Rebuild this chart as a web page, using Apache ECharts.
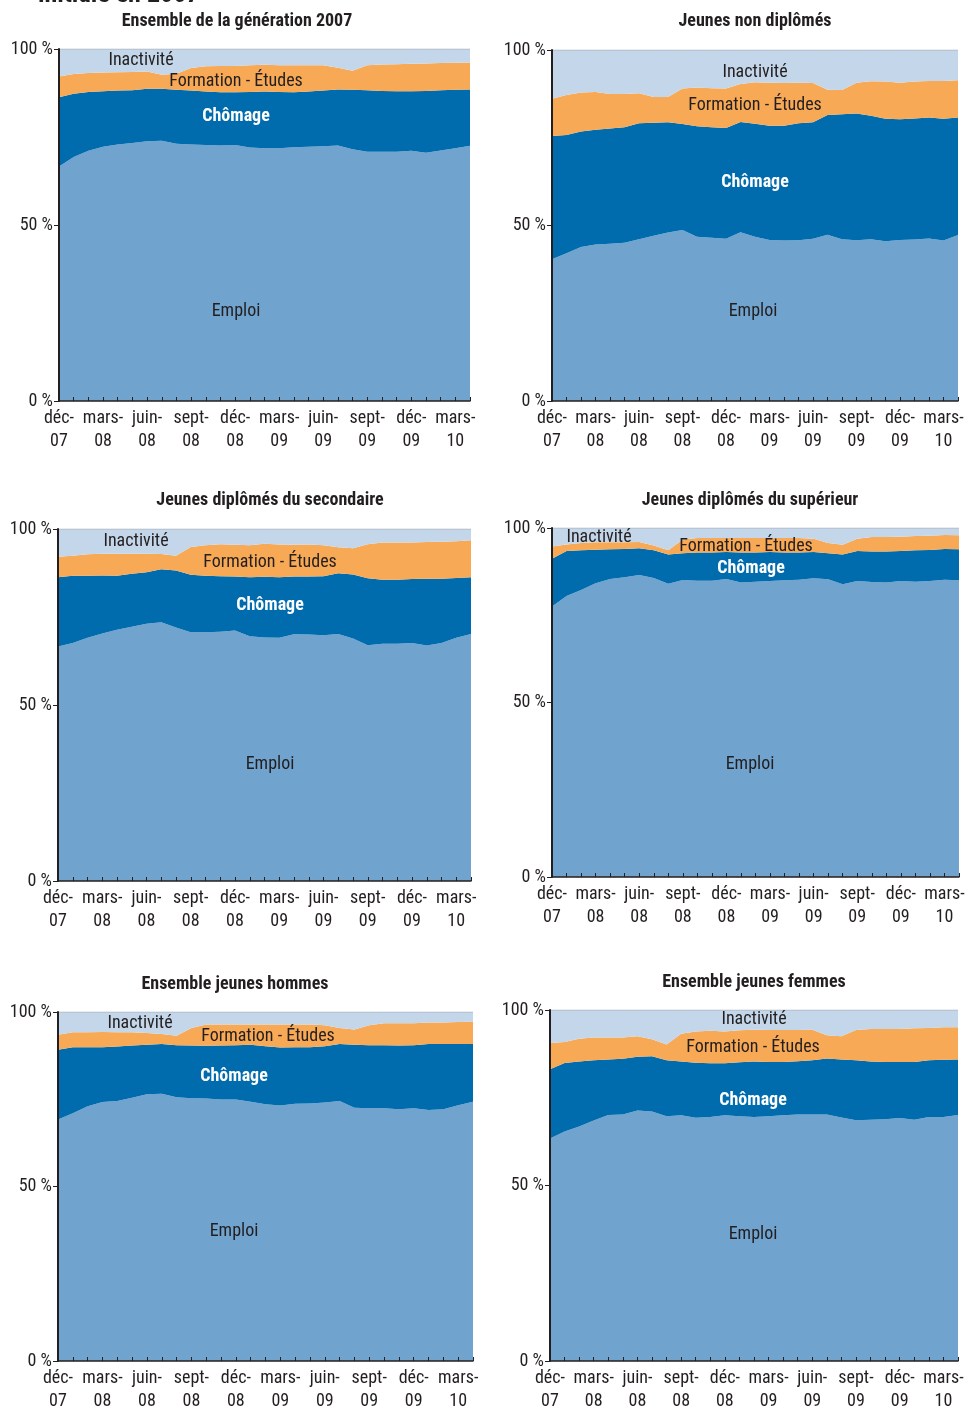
<!DOCTYPE html>
<html>
<head>
<meta charset="utf-8">
<script src="https://cdn.jsdelivr.net/npm/echarts@6/dist/echarts.min.js"></script>
<style>
html,body{margin:0;padding:0;background:#fff;}
#c{width:968px;height:1413px;}
</style>
</head>
<body>
<div id="c"></div>
<script>
// ---------- DATA ----------
const months = ['déc-07','janv-08','févr-08','mars-08','avr-08','mai-08','juin-08','juil-08','août-08','sept-08','oct-08','nov-08','déc-08','janv-09','févr-09','mars-09','avr-09','mai-09','juin-09','juil-09','août-09','sept-09','oct-09','nov-09','déc-09','janv-10','févr-10','mars-10','avr-10'];
const yTicks = [0, 50, 100];

const panelTitles = ['Ensemble de la génération 2007','Jeunes non diplômés','Jeunes diplômés du secondaire','Jeunes diplômés du supérieur','Ensemble jeunes hommes','Ensemble jeunes femmes'];
const seriesNames = ['Emploi','Chômage','Formation - Études','Inactivité'];

// Ensemble de la génération 2007
const emploiEnsemble     = [66.6,69.3,71.1,72.2,72.9,73.3,73.8,73.9,73.1,72.9,72.7,72.6,72.7,72.0,71.8,71.8,72.1,72.2,72.4,72.6,71.5,70.8,70.8,70.8,71.1,70.5,71.2,71.8,72.5];
const chomageEnsemble    = [19.7,18.0,16.7,15.8,15.3,15.0,14.9,14.8,15.3,15.3,15.2,15.1,15.0,15.8,16.1,16.0,15.6,15.7,15.8,15.9,16.9,17.5,17.3,17.2,16.9,17.6,17.1,16.6,16.0];
const formationEnsemble  = [5.9,5.6,5.4,5.3,5.2,5.2,4.9,4.0,4.6,6.4,7.2,7.5,7.5,7.6,7.6,7.6,7.7,7.5,7.2,6.2,5.4,7.1,7.5,7.7,7.8,7.8,7.7,7.7,7.7];
const inactiviteEnsemble = [7.8,7.1,6.8,6.7,6.6,6.5,6.4,7.3,7.0,5.4,4.9,4.8,4.8,4.6,4.5,4.6,4.6,4.6,4.6,5.3,6.2,4.6,4.4,4.3,4.2,4.1,4.0,3.9,3.8];

// Jeunes non diplômés
const emploiNonDipl     = [40.4,42.1,43.9,44.6,44.8,45.1,46.1,47.1,48.0,48.7,46.8,46.5,46.2,48.1,46.8,45.9,45.7,45.8,46.2,47.4,46.1,45.8,46.1,45.5,45.9,46.0,46.3,45.7,47.3];
const chomageNonDipl    = [35.1,33.7,32.9,32.7,32.8,32.9,33.0,32.2,31.4,30.2,31.5,31.5,31.6,31.4,32.2,32.5,32.7,33.3,33.2,34.1,35.6,36.1,35.2,34.9,34.4,34.5,34.5,34.7,33.5];
const formationNonDipl  = [10.6,11.4,11.1,10.7,9.9,9.5,8.6,7.3,7.2,10.1,11.0,11.1,11.2,10.8,11.8,12.3,12.2,11.6,11.2,7.2,6.9,8.8,9.8,10.6,10.4,10.5,10.4,10.8,10.6];
const inactiviteNonDipl = [13.9,12.8,12.1,12.0,12.5,12.5,12.3,13.4,13.4,11.0,10.7,10.9,11.0,9.7,9.2,9.3,9.4,9.3,9.4,11.3,11.4,9.3,8.9,9.0,9.3,9.0,8.8,8.8,8.6];

// Jeunes diplômés du secondaire
const emploiSecondaire     = [66.6,67.6,69.1,70.3,71.4,72.2,73.1,73.5,72.0,70.7,70.7,70.8,71.2,69.5,69.2,69.1,70.1,70.0,69.8,70.2,68.9,67.0,67.4,67.4,67.6,66.9,67.6,69.1,70.2];
const chomageSecondaire    = [19.7,19.1,17.6,16.5,15.3,15.1,14.6,15.1,16.2,16.3,16.0,15.8,15.3,16.8,17.2,17.2,16.4,16.5,16.8,17.2,18.2,19.0,18.2,18.2,18.2,19.0,18.3,17.0,16.1];
const formationSecondaire  = [5.8,5.7,6.1,6.2,6.3,5.7,5.3,4.3,4.2,7.9,8.7,9.1,9.0,9.1,9.4,9.3,9.0,9.1,8.8,7.4,7.4,9.7,10.6,10.6,10.4,10.4,10.5,10.4,10.5];
const inactiviteSecondaire = [7.9,7.6,7.2,7.0,7.0,7.0,7.0,7.1,7.6,5.1,4.6,4.3,4.5,4.6,4.2,4.4,4.5,4.4,4.6,5.2,5.5,4.3,3.8,3.8,3.8,3.7,3.6,3.5,3.2];

// Jeunes diplômés du supérieur
const emploiSuperieur     = [77.5,80.5,82.2,84.2,85.4,85.9,86.5,85.7,84.0,85.1,84.9,84.9,85.4,84.4,84.6,84.8,85.0,85.2,85.6,85.3,83.9,84.8,84.5,84.4,84.8,84.6,84.8,85.2,85.0];
const chomageSuperieur    = [13.7,12.9,11.4,9.6,8.5,8.1,7.7,7.9,8.4,7.7,8.1,8.1,7.7,8.6,8.4,8.3,8.0,7.8,7.5,7.5,8.5,8.6,8.8,8.9,8.6,9.0,8.9,8.8,8.9];
const formationSuperieur  = [3.5,1.9,2.1,2.1,2.0,1.9,1.8,1.4,1.2,3.9,4.1,4.1,4.0,4.1,4.1,4.0,4.1,4.1,3.8,2.9,2.8,3.5,4.1,4.1,4.1,4.1,4.1,4.0,4.0];
const inactiviteSuperieur = [5.3,4.7,4.3,4.1,4.1,4.1,4.0,5.0,6.4,3.3,2.9,2.9,2.9,2.9,2.9,2.9,2.9,2.9,3.1,4.3,4.8,3.1,2.6,2.6,2.5,2.3,2.2,2.0,2.1];

// Ensemble jeunes hommes
const emploiHommes     = [69.2,71.0,73.0,74.2,74.5,75.4,76.4,76.6,75.6,75.3,75.2,74.9,74.9,74.3,73.6,73.2,73.7,73.8,74.1,74.5,72.6,72.4,72.4,72.1,72.4,71.9,72.1,73.3,74.3];
const chomageHommes    = [20.0,18.9,16.9,15.7,15.6,15.0,14.2,14.2,14.9,15.1,15.1,15.5,15.6,16.3,16.6,16.6,16.2,16.1,16.1,16.3,18.0,18.1,18.1,18.3,18.1,18.9,18.7,17.5,16.5];
const formationHommes  = [4.3,4.3,4.3,4.4,4.1,3.8,3.4,2.9,2.7,5.0,6.1,6.0,5.9,5.8,6.2,6.6,6.5,6.5,6.0,4.6,4.4,5.7,6.3,6.4,6.3,6.2,6.2,6.3,6.4];
const inactiviteHommes = [6.5,5.8,5.8,5.7,5.8,5.8,6.0,6.3,6.8,4.6,3.6,3.6,3.6,3.6,3.6,3.6,3.6,3.6,3.8,4.6,5.0,3.8,3.2,3.2,3.2,3.0,3.0,2.9,2.8];

// Ensemble jeunes femmes
const emploiFemmes     = [63.4,65.4,66.8,68.5,70.1,70.2,71.4,71.1,69.7,70.0,69.3,69.5,70.0,69.7,69.5,69.7,70.0,70.2,70.2,70.2,69.4,68.6,68.7,68.9,69.2,68.7,69.5,69.5,70.1];
const chomageFemmes    = [19.7,19.5,18.5,17.2,15.8,15.9,15.3,15.7,16.0,15.3,15.7,15.3,14.8,15.4,15.8,15.5,15.2,15.2,15.5,16.0,16.5,17.1,16.6,16.3,16.0,16.5,16.2,16.3,15.8];
const formationFemmes  = [7.5,6.0,6.5,6.5,6.3,6.1,5.8,4.9,4.5,7.9,8.9,9.3,9.1,9.1,9.1,9.1,9.1,8.9,8.7,6.6,6.6,8.6,9.3,9.4,9.4,9.6,9.2,9.3,9.2];
const inactiviteFemmes = [9.4,9.1,8.2,7.8,7.8,7.8,7.5,8.3,9.8,6.8,6.1,5.9,6.1,5.8,5.6,5.7,5.7,5.7,5.6,7.2,7.5,5.7,5.4,5.4,5.4,5.2,5.1,4.9,4.9];

const panelData = [
  [emploiEnsemble, chomageEnsemble, formationEnsemble, inactiviteEnsemble],
  [emploiNonDipl, chomageNonDipl, formationNonDipl, inactiviteNonDipl],
  [emploiSecondaire, chomageSecondaire, formationSecondaire, inactiviteSecondaire],
  [emploiSuperieur, chomageSuperieur, formationSuperieur, inactiviteSuperieur],
  [emploiHommes, chomageHommes, formationHommes, inactiviteHommes],
  [emploiFemmes, chomageFemmes, formationFemmes, inactiviteFemmes]
];

// ---------- LAYOUT / STYLE ----------
const FONT = '"Liberation Sans Narrow", "Arial Narrow", "Roboto Condensed", "Liberation Sans", sans-serif';
const TXT = '#231f20';
const colors = ['#70a3ce', '#006cae', '#f8a955', '#c4d7ea'];

// grid rectangles [left, top, rightEdge, bottomEdge]
const grids = [
  [59, 49, 470, 401],
  [552, 50, 958, 401],
  [58, 529, 471, 881],
  [552, 528, 959, 877],
  [58, 1012, 473, 1362],
  [550, 1010, 958, 1365]
];
const titlePos = [[237,21],[755,21],[270,500],[750,500],[235,984],[754,982]];
// label positions: Inactivité, Formation, Chômage, Emploi
const labelPos = [
  [[141,60],[236,81],[236,116],[236,311]],
  [[755,72],[755,105],[755,182],[753,311]],
  [[136,541],[270,562],[270,605],[270,764]],
  [[599,537],[746,546],[751,568],[750,764]],
  [[140,1023],[268,1036],[234,1076],[234,1231]],
  [[754,1019],[753,1047],[753,1100],[753,1234]]
];

const option = {
  animation: false,
  backgroundColor: '#fff',
  grid: [], xAxis: [], yAxis: [], series: [], graphic: []
};

grids.forEach((g, k) => {
  option.grid.push({left: g[0], top: g[1], width: g[2]-g[0], height: g[3]-g[1], containLabel: false});
  option.xAxis.push({
    type: 'category', gridIndex: k, data: months, boundaryGap: false, z: 5,
    axisLine: {lineStyle: {color: TXT, width: 1.5}},
    axisTick: {inside: true, length: 4, interval: 0, lineStyle: {color: TXT, width: 1}},
    axisLabel: {interval: 2, formatter: v => v.replace('-', '-\n'), fontSize: 18, lineHeight: 23,
                color: TXT, fontFamily: FONT, margin: 6}
  });
  option.yAxis.push({
    type: 'value', gridIndex: k, min: 0, max: 100, interval: 50, z: 5,
    axisLine: {show: true, lineStyle: {color: TXT, width: 2}},
    axisTick: {show: true, length: 5, lineStyle: {color: TXT}},
    splitLine: {show: false},
    axisLabel: {formatter: '{value} %', fontSize: 18, color: TXT, fontFamily: FONT, margin: 6}
  });
  panelData[k].forEach((arr, s) => {
    const top = s === 3;
    option.series.push({
      type: 'line', name: seriesNames[s], xAxisIndex: k, yAxisIndex: k, stack: 'p' + k,
      data: arr, symbol: 'none',
      lineStyle: top ? {width: 1, color: '#aab3bd'} : {width: 0},
      areaStyle: {color: colors[s], opacity: 1},
      itemStyle: {color: colors[s]}, z: 2
    });
  });
  option.graphic.push({type: 'text', x: titlePos[k][0], y: titlePos[k][1], z: 10,
    style: {text: panelTitles[k], font: 'bold 18px ' + FONT, fill: TXT, textAlign: 'center', textVerticalAlign: 'middle'}});
  const lp = labelPos[k];
  const labs = [['Inactivité', TXT, 'normal'], ['Formation - Études', TXT, 'normal'], ['Chômage', '#fff', 'bold'], ['Emploi', TXT, 'normal']];
  labs.forEach((l, i) => {
    option.graphic.push({type: 'text', x: lp[i][0], y: lp[i][1], z: 10,
      style: {text: l[0], font: l[2] + ' 18px ' + FONT, fill: l[1], textAlign: 'center', textVerticalAlign: 'middle'}});
  });
});

option.graphic.push({type: 'text', x: 38, y: 8, z: 10,
  style: {text: 'initiale en 2007', font: 'bold 26px ' + FONT, fill: TXT, textAlign: 'left', textVerticalAlign: 'bottom'}});

const chart = echarts.init(document.getElementById('c'), null, {renderer: 'canvas'});
chart.setOption(option);
</script>
</body>
</html>
